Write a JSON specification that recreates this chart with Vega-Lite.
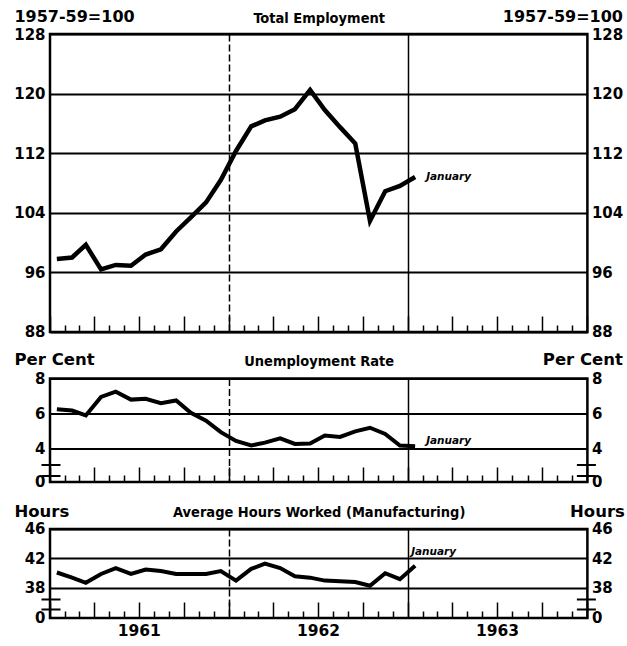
{
  "$schema": "https://vega.github.io/schema/vega-lite/v6.json",
  "padding": {"left": 12, "top": 6, "right": 0, "bottom": 0},
  "background": "white",
  "data": {"values": [
    {"date": "1961-01-15", "employment": 97.8, "unemployment": 6.25, "hours": 40.1},
    {"date": "1961-02-15", "employment": 98.0, "unemployment": 6.18, "hours": 39.4},
    {"date": "1961-03-15", "employment": 99.7, "unemployment": 5.9, "hours": 38.7},
    {"date": "1961-04-15", "employment": 96.4, "unemployment": 6.95, "hours": 39.9},
    {"date": "1961-05-15", "employment": 97.0, "unemployment": 7.25, "hours": 40.7},
    {"date": "1961-06-15", "employment": 96.9, "unemployment": 6.8, "hours": 39.9},
    {"date": "1961-07-15", "employment": 98.4, "unemployment": 6.85, "hours": 40.5},
    {"date": "1961-08-15", "employment": 99.1, "unemployment": 6.6, "hours": 40.3},
    {"date": "1961-09-15", "employment": 101.5, "unemployment": 6.75, "hours": 39.9},
    {"date": "1961-10-15", "employment": 103.4, "unemployment": 6.05, "hours": 39.9},
    {"date": "1961-11-15", "employment": 105.4, "unemployment": 5.6, "hours": 39.9},
    {"date": "1961-12-15", "employment": 108.4, "unemployment": 4.95, "hours": 40.3},
    {"date": "1962-01-15", "employment": 112.3, "unemployment": 4.45, "hours": 39.0},
    {"date": "1962-02-15", "employment": 115.6, "unemployment": 4.19, "hours": 40.6},
    {"date": "1962-03-15", "employment": 116.4, "unemployment": 4.35, "hours": 41.3},
    {"date": "1962-04-15", "employment": 116.9, "unemployment": 4.6, "hours": 40.7},
    {"date": "1962-05-15", "employment": 117.9, "unemployment": 4.28, "hours": 39.6},
    {"date": "1962-06-15", "employment": 120.5, "unemployment": 4.3, "hours": 39.4},
    {"date": "1962-07-15", "employment": 117.8, "unemployment": 4.76, "hours": 39.0},
    {"date": "1962-08-15", "employment": 115.5, "unemployment": 4.68, "hours": 38.9},
    {"date": "1962-09-15", "employment": 113.3, "unemployment": 4.99, "hours": 38.8},
    {"date": "1962-10-15", "employment": 102.9, "unemployment": 5.2, "hours": 38.3},
    {"date": "1962-11-15", "employment": 106.9, "unemployment": 4.85, "hours": 40.0},
    {"date": "1962-12-15", "employment": 107.6, "unemployment": 4.19, "hours": 39.2},
    {"date": "1963-01-15", "employment": 108.8, "unemployment": 4.15, "hours": 41.0}
  ]},
  "vconcat": [
    {
      "width": 537.4, "height": 298,
      "layer": [
        {
          "mark": {"type": "line", "strokeWidth": 4.5},
          "encoding": {
            "x": {"field": "date", "type": "temporal",
              "scale": {"type": "utc", "domain": [{"year": 1961, "month": 1, "date": 1, "utc": true}, {"year": 1964, "month": 1, "date": 1, "utc": true}]},
              "axis": {"orient": "bottom", "tickCount": {"interval": "month", "step": 1}, "labels": false, "title": null, "domain": false, "ticks": true, "tickWidth": 1.5,
                "tickSize": {"condition": {"test": "utcmonth(datum.value) % 3 == 0", "value": -16}, "value": -7},
                "grid": true, "gridWidth": 1.5,
                "gridOpacity": {"condition": {"test": "utcmonth(datum.value) == 0 && utcyear(datum.value) > 1961 && utcyear(datum.value) < 1964", "value": 1}, "value": 0},
                "gridDash": {"condition": {"test": "utcyear(datum.value) == 1962", "value": [7, 3]}, "value": []}}},
            "y": {"field": "employment", "type": "quantitative", "scale": {"domain": [88, 128], "nice": false, "zero": false},
              "axis": {"orient": "left", "values": [88, 96, 104, 112, 120, 128], "grid": true, "gridWidth": 2, "ticks": false, "tickSize": 0, "domain": false, "labelPadding": 5,
                "title": "1957-59=100", "titleFontSize": 16, "titleAngle": 0, "titleAlign": "left", "titleBaseline": "alphabetic", "titleX": -36, "titleY": -13}}
          }
        },
        {
          "transform": [{"filter": "utcyear(toDate(datum.date)) == 1963"}],
          "mark": {"type": "text", "align": "left", "baseline": "middle", "dx": 11, "dy": 0},
          "encoding": {
            "x": {"field": "date", "type": "temporal",
              "scale": {"type": "utc", "domain": [{"year": 1961, "month": 1, "date": 1, "utc": true}, {"year": 1964, "month": 1, "date": 1, "utc": true}]},
              "axis": {"orient": "top", "labels": false, "ticks": false, "domain": false, "grid": false, "title": "Total Employment", "titleFont": "DejaVu Sans Condensed", "titleFontSize": 14.5, "titleBaseline": "alphabetic", "titleY": -12}},
            "y": {"field": "employment", "type": "quantitative", "scale": {"domain": [88, 128], "nice": false, "zero": false},
              "axis": {"orient": "right", "values": [88, 96, 104, 112, 120, 128], "grid": false, "ticks": false, "tickSize": 0, "domain": false, "labelPadding": 4,
                "title": "1957-59=100", "titleFontSize": 16, "titleAngle": 0, "titleAlign": "right", "titleBaseline": "alphabetic", "titleX": 35, "titleY": -13}},
            "text": {"value": "January"}
          }
        }
      ],
      "resolve": {"axis": {"x": "independent", "y": "independent"}}
    },
    {
      "width": 537.4, "height": 103.5,
      "layer": [
        {
          "mark": {"type": "line", "strokeWidth": 4},
          "encoding": {
            "x": {"field": "date", "type": "temporal",
              "scale": {"type": "utc", "domain": [{"year": 1961, "month": 1, "date": 1, "utc": true}, {"year": 1964, "month": 1, "date": 1, "utc": true}]},
              "axis": {"orient": "bottom", "tickCount": {"interval": "month", "step": 1}, "labels": false, "title": null, "domain": false, "ticks": true, "tickWidth": 1.5,
                "tickSize": {"condition": {"test": "utcmonth(datum.value) % 3 == 0", "value": -15}, "value": -7},
                "grid": true, "gridWidth": 1.5,
                "gridOpacity": {"condition": {"test": "utcmonth(datum.value) == 0 && utcyear(datum.value) > 1961 && utcyear(datum.value) < 1964", "value": 1}, "value": 0},
                "gridDash": {"condition": {"test": "utcyear(datum.value) == 1962", "value": [7, 3]}, "value": []}}},
            "y": {"field": "unemployment", "type": "quantitative", "scale": {"domain": [2.113, 8], "nice": false, "zero": false},
              "axis": {"orient": "left", "values": [2.113, 2.51, 3.08, 4, 6, 8], "grid": true, "gridWidth": 2,
                "gridOpacity": {"condition": {"test": "datum.value > 3.9", "value": 1}, "value": 0},
                "ticks": true, "tickWidth": 2, "tickSize": {"condition": {"test": "datum.value > 2.3 && datum.value < 3.5", "value": 9}, "value": 0},
                "domain": false, "labelPadding": 5,
                "labelExpr": "datum.value < 2.3 ? '0' : (datum.value < 3.5 ? '' : datum.label)",
                "title": "Per Cent", "titleAngle": 0, "titleAlign": "left", "titleBaseline": "alphabetic", "titleX": -36, "titleY": -14}}
          }
        },
        {
          "transform": [{"filter": "utcyear(toDate(datum.date)) == 1963"}],
          "mark": {"type": "text", "align": "left", "baseline": "middle", "dx": 11, "dy": -5},
          "encoding": {
            "x": {"field": "date", "type": "temporal",
              "scale": {"type": "utc", "domain": [{"year": 1961, "month": 1, "date": 1, "utc": true}, {"year": 1964, "month": 1, "date": 1, "utc": true}]},
              "axis": {"orient": "top", "labels": false, "ticks": false, "domain": false, "grid": false, "title": "Unemployment Rate", "titleFont": "DejaVu Sans Condensed", "titleFontSize": 14.5, "titleBaseline": "alphabetic", "titleY": -13}},
            "y": {"field": "unemployment", "type": "quantitative", "scale": {"domain": [2.113, 8], "nice": false, "zero": false},
              "axis": {"orient": "right", "values": [2.113, 2.51, 3.08, 4, 6, 8], "grid": false,
                "ticks": true, "tickWidth": 2, "tickSize": {"condition": {"test": "datum.value > 2.3 && datum.value < 3.5", "value": 8}, "value": 0},
                "domain": false, "labelPadding": 4,
                "labelExpr": "datum.value < 2.3 ? '0' : (datum.value < 3.5 ? '' : datum.label)",
                "title": "Per Cent", "titleAngle": 0, "titleAlign": "right", "titleBaseline": "alphabetic", "titleX": 35, "titleY": -14}},
            "text": {"value": "January"}
          }
        },
        {
          "mark": {"type": "line", "opacity": 0},
          "encoding": {
            "x": {"field": "date", "type": "temporal",
              "scale": {"type": "utc", "domain": [{"year": 1961, "month": 1, "date": 1, "utc": true}, {"year": 1964, "month": 1, "date": 1, "utc": true}]}, "axis": null},
            "y": {"field": "unemployment", "type": "quantitative", "scale": {"domain": [2.113, 8], "nice": false, "zero": false},
              "axis": {"orient": "left", "values": [2.51, 3.08], "ticks": true, "tickWidth": 2, "tickSize": -10, "labels": false, "domain": false, "grid": false, "title": null}}
          }
        },
        {
          "mark": {"type": "line", "opacity": 0},
          "encoding": {
            "x": {"field": "date", "type": "temporal",
              "scale": {"type": "utc", "domain": [{"year": 1961, "month": 1, "date": 1, "utc": true}, {"year": 1964, "month": 1, "date": 1, "utc": true}]}, "axis": null},
            "y": {"field": "unemployment", "type": "quantitative", "scale": {"domain": [2.113, 8], "nice": false, "zero": false},
              "axis": {"orient": "right", "values": [2.51, 3.08], "ticks": true, "tickWidth": 2, "tickSize": -11, "labels": false, "domain": false, "grid": false, "title": null}}
          }
        }
      ],
      "resolve": {"axis": {"x": "independent", "y": "independent"}}
    },
    {
      "width": 537.4, "height": 89,
      "layer": [
        {
          "mark": {"type": "line", "strokeWidth": 4},
          "encoding": {
            "x": {"field": "date", "type": "temporal",
              "scale": {"type": "utc", "domain": [{"year": 1961, "month": 1, "date": 1, "utc": true}, {"year": 1964, "month": 1, "date": 1, "utc": true}]},
              "axis": {"orient": "bottom", "tickCount": {"interval": "month", "step": 1}, "labels": false, "title": null, "domain": false, "ticks": true, "tickWidth": 1.5,
                "tickSize": {"condition": {"test": "utcmonth(datum.value) % 3 == 0", "value": -16}, "value": -7},
                "grid": true, "gridWidth": 1.5,
                "gridOpacity": {"condition": {"test": "utcmonth(datum.value) == 0 && utcyear(datum.value) > 1961 && utcyear(datum.value) < 1964", "value": 1}, "value": 0},
                "gridDash": {"condition": {"test": "utcyear(datum.value) == 1962", "value": [7, 3]}, "value": []}}},
            "y": {"field": "hours", "type": "quantitative", "scale": {"domain": [33.93, 46], "nice": false, "zero": false},
              "axis": {"orient": "left", "values": [33.93, 35.11, 36.47, 38, 42, 46], "grid": true, "gridWidth": 2,
                "gridOpacity": {"condition": {"test": "datum.value > 37.5", "value": 1}, "value": 0},
                "ticks": true, "tickWidth": 2, "tickSize": {"condition": {"test": "datum.value > 34.5 && datum.value < 37.5", "value": 9}, "value": 0},
                "domain": false, "labelPadding": 5,
                "labelExpr": "datum.value < 34.5 ? '0' : (datum.value < 37.5 ? '' : datum.label)",
                "title": "Hours", "titleAngle": 0, "titleAlign": "left", "titleBaseline": "alphabetic", "titleX": -36, "titleY": -12.5}}
          }
        },
        {
          "transform": [{"filter": "utcyear(toDate(datum.date)) == 1963"}],
          "mark": {"type": "text", "align": "left", "baseline": "middle", "dx": -4, "dy": -14},
          "encoding": {
            "x": {"field": "date", "type": "temporal",
              "scale": {"type": "utc", "domain": [{"year": 1961, "month": 1, "date": 1, "utc": true}, {"year": 1964, "month": 1, "date": 1, "utc": true}]},
              "axis": {"orient": "top", "labels": false, "ticks": false, "domain": false, "grid": false, "title": "Average Hours Worked (Manufacturing)", "titleFont": "DejaVu Sans Condensed", "titleFontSize": 14.5, "titleBaseline": "alphabetic", "titleY": -12}},
            "y": {"field": "hours", "type": "quantitative", "scale": {"domain": [33.93, 46], "nice": false, "zero": false},
              "axis": {"orient": "right", "values": [33.93, 35.11, 36.47, 38, 42, 46], "grid": false,
                "ticks": true, "tickWidth": 2, "tickSize": {"condition": {"test": "datum.value > 34.5 && datum.value < 37.5", "value": 8}, "value": 0},
                "domain": false, "labelPadding": 4,
                "labelExpr": "datum.value < 34.5 ? '0' : (datum.value < 37.5 ? '' : datum.label)",
                "title": "Hours", "titleAngle": 0, "titleAlign": "right", "titleBaseline": "alphabetic", "titleX": 37, "titleY": -12.5}},
            "text": {"value": "January"}
          }
        },
        {
          "mark": {"type": "line", "opacity": 0},
          "encoding": {
            "x": {"field": "date", "type": "temporal",
              "scale": {"type": "utc", "domain": [{"year": 1961, "month": 1, "date": 1, "utc": true}, {"year": 1964, "month": 1, "date": 1, "utc": true}]},
              "axis": {"orient": "bottom", "values": [{"year": 1961, "month": 7, "date": 1, "utc": true}, {"year": 1962, "month": 7, "date": 1, "utc": true}, {"year": 1963, "month": 7, "date": 1, "utc": true}],
                "labelExpr": "utcFormat(datum.value, '%Y')", "labelFontSize": 15.5, "ticks": false, "tickSize": 0, "labelPadding": 6, "domain": false, "grid": false, "title": null}},
            "y": {"field": "hours", "type": "quantitative", "scale": {"domain": [33.93, 46], "nice": false, "zero": false},
              "axis": {"orient": "left", "values": [35.11, 36.47], "ticks": true, "tickWidth": 2, "tickSize": -10, "labels": false, "domain": false, "grid": false, "title": null}}
          }
        },
        {
          "mark": {"type": "line", "opacity": 0},
          "encoding": {
            "x": {"field": "date", "type": "temporal",
              "scale": {"type": "utc", "domain": [{"year": 1961, "month": 1, "date": 1, "utc": true}, {"year": 1964, "month": 1, "date": 1, "utc": true}]}, "axis": null},
            "y": {"field": "hours", "type": "quantitative", "scale": {"domain": [33.93, 46], "nice": false, "zero": false},
              "axis": {"orient": "right", "values": [35.11, 36.47], "ticks": true, "tickWidth": 2, "tickSize": -11, "labels": false, "domain": false, "grid": false, "title": null}}
          }
        }
      ],
      "resolve": {"axis": {"x": "independent", "y": "independent"}}
    }
  ],
  "spacing": 46.5,
  "bounds": "flush",
  "config": {
    "view": {"stroke": "black", "strokeWidth": 2.5},
    "axis": {"labelColor": "black", "titleColor": "black", "tickColor": "black", "gridColor": "black", "domainColor": "black",
      "labelFont": "DejaVu Sans", "labelFontWeight": "bold", "labelFontSize": 15,
      "titleFont": "DejaVu Sans", "titleFontWeight": "bold", "titleFontSize": 16.5},
    "line": {"color": "black", "strokeJoin": "miter", "strokeCap": "butt"},
    "text": {"font": "DejaVu Sans", "fontWeight": "bold", "fontStyle": "italic", "fontSize": 10.5, "color": "black"}
  }
}
